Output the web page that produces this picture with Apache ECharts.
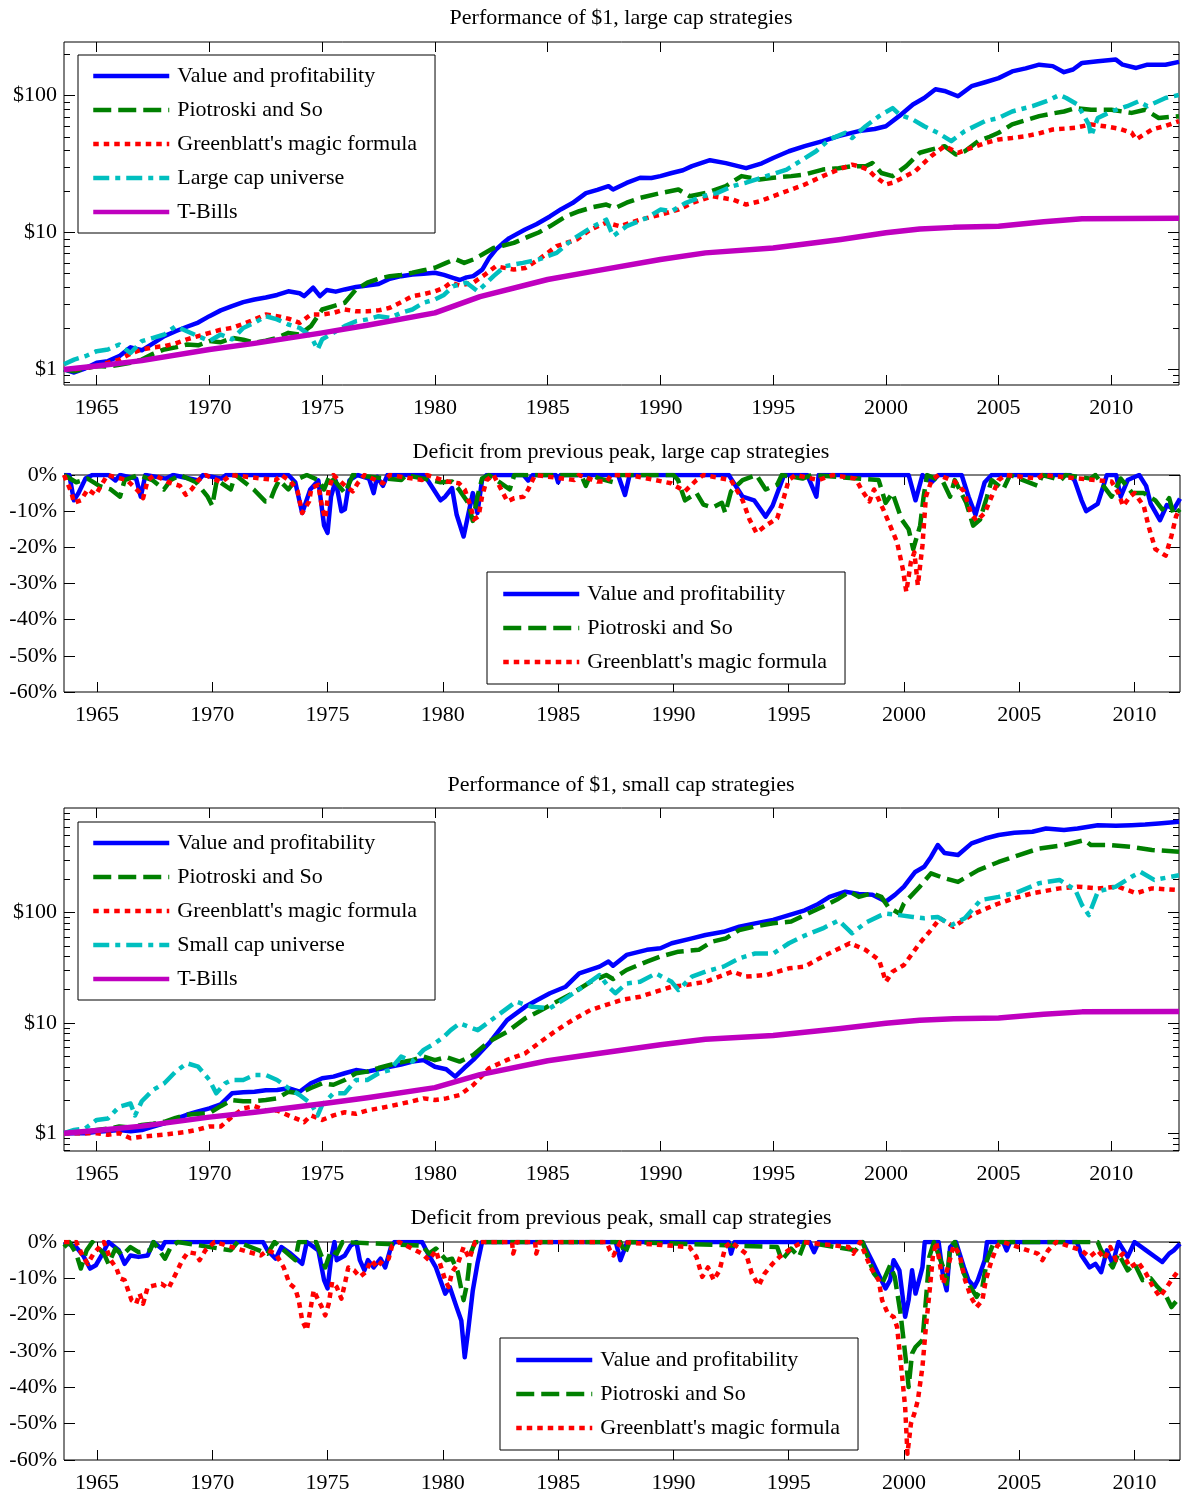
<!DOCTYPE html>
<html>
<head>
<meta charset="utf-8">
<script src="https://cdn.jsdelivr.net/npm/echarts@6/dist/echarts.min.js"></script>
<style>
  html, body { margin: 0; padding: 0; background: #fff; }
  #chart { width: 1183px; height: 1493px; }
</style>
</head>
<body>
<div id="chart"></div>
<script>
// growth of $1, large cap (year, dollars)
var lcValue = [[1963.55,1.0],[1964.0,0.95],[1964.5,1.02],[1965.0,1.12],[1965.5,1.15],[1966.0,1.25],[1966.5,1.45],[1967.0,1.38],[1967.5,1.55],[1968.0,1.75],[1968.5,1.9],[1969.0,2.05],[1969.5,2.2],[1970.0,2.45],[1970.5,2.7],[1971.0,2.9],[1971.5,3.1],[1972.0,3.24],[1972.5,3.35],[1973.0,3.5],[1973.5,3.72],[1974.0,3.6],[1974.2,3.43],[1974.6,3.95],[1974.9,3.43],[1975.2,3.8],[1975.6,3.7],[1976.0,3.84],[1976.5,4.0],[1977.0,4.1],[1977.5,4.2],[1978.0,4.6],[1978.5,4.8],[1979.0,4.94],[1979.5,5.0],[1980.0,5.08],[1980.4,4.9],[1980.8,4.67],[1981.1,4.5],[1981.4,4.7],[1981.7,4.8],[1982.1,5.36],[1982.4,6.5],[1982.7,7.5],[1983.0,8.3],[1983.3,9.1],[1984.0,10.5],[1984.5,11.5],[1985.1,13.1],[1985.6,14.8],[1986.1,16.4],[1986.7,19.4],[1987.2,20.5],[1987.7,21.8],[1987.9,20.6],[1988.5,23],[1989.1,25.1],[1989.6,25.0],[1990.0,25.8],[1990.5,27.2],[1991.0,28.5],[1991.4,30.5],[1992.2,33.7],[1992.9,32.1],[1993.8,29.5],[1994.5,32],[1995.0,35],[1995.7,39.2],[1996.4,42.7],[1997.2,46.5],[1997.9,50.5],[1998.8,55],[1999.5,57],[2000.0,59.7],[2000.6,71],[2001.2,86],[2001.7,95.9],[2002.2,111],[2002.6,108],[2003.2,98.8],[2003.8,117],[2004.4,125],[2005.0,134],[2005.6,150],[2006.2,158],[2006.8,168],[2007.4,164],[2007.9,148],[2008.3,155],[2008.7,173],[2009.4,178],[2010.2,183],[2010.5,168],[2011.1,159],[2011.6,168],[2012.4,168],[2013.0,176]];
var lcPiotroski = [[1963.55,1.0],[1964.0,0.97],[1964.5,1.02],[1965.0,1.06],[1965.5,1.05],[1966.0,1.08],[1966.5,1.12],[1967.0,1.18],[1967.5,1.3],[1968.0,1.4],[1968.5,1.45],[1969.0,1.52],[1969.5,1.5],[1970.0,1.61],[1970.5,1.58],[1971.0,1.7],[1971.5,1.65],[1972.0,1.57],[1972.5,1.62],[1973.0,1.7],[1973.5,1.85],[1974.0,1.8],[1974.5,2.07],[1975.0,2.74],[1975.5,2.9],[1976.0,3.07],[1976.5,3.84],[1977.0,4.3],[1977.5,4.6],[1978.0,4.8],[1978.5,4.9],[1979.0,5.08],[1979.5,5.3],[1980.0,5.53],[1980.5,6.0],[1980.9,6.4],[1981.3,6.0],[1981.7,6.35],[1982.1,6.9],[1982.6,7.7],[1983.0,8.0],[1983.5,8.4],[1984.2,9.4],[1984.6,10],[1985.1,11.1],[1985.8,13.1],[1986.4,14.3],[1987.0,15.3],[1987.6,16.0],[1988.0,15.1],[1988.5,16.5],[1989.1,17.9],[1990.0,19.4],[1990.8,20.6],[1991.3,18.4],[1992.0,19.4],[1992.9,21.8],[1993.6,25.8],[1994.4,24.4],[1995.0,25.1],[1995.8,25.8],[1996.4,26.5],[1997.2,28.8],[1997.9,29.5],[1998.5,30.5],[1999.1,30.5],[1999.4,32.2],[1999.8,27.2],[2000.3,25.8],[2000.9,30.5],[2001.5,38.2],[2002.0,40.3],[2002.6,42.7],[2003.1,37.1],[2003.5,39.2],[2004.1,46.5],[2004.6,50],[2005.0,53.5],[2005.6,61.6],[2006.2,66],[2006.8,70.7],[2007.4,74],[2007.9,76.5],[2008.4,81],[2009.1,78.7],[2010.0,78.7],[2010.9,74.7],[2011.5,78.7],[2012.1,68.6],[2013.0,70.7]];
var lcGreenblatt = [[1963.55,1.0],[1964.0,1.0],[1964.5,1.03],[1965.0,1.06],[1965.5,1.12],[1966.0,1.18],[1966.5,1.3],[1967.0,1.4],[1967.5,1.45],[1968.0,1.48],[1968.5,1.55],[1969.0,1.66],[1969.5,1.75],[1970.0,1.85],[1970.5,1.95],[1971.0,2.01],[1971.5,2.15],[1972.0,2.32],[1972.5,2.52],[1973.0,2.45],[1973.5,2.35],[1974.0,2.19],[1974.5,2.52],[1975.0,2.52],[1975.5,2.59],[1976.0,2.74],[1976.5,2.66],[1977.0,2.66],[1977.5,2.7],[1978.0,2.82],[1978.5,3.1],[1979.0,3.43],[1979.5,3.55],[1980.0,3.72],[1980.4,3.95],[1980.7,4.3],[1981.1,4.1],[1981.7,4.3],[1982.2,4.9],[1982.7,5.67],[1983.5,5.36],[1984.0,5.5],[1984.6,6.35],[1985.4,7.95],[1986.3,8.9],[1986.9,10.5],[1987.6,11.8],[1988.2,11.1],[1989.1,12.4],[1990.0,13.5],[1990.8,14.7],[1991.4,16.4],[1992.3,18.4],[1993.2,17.4],[1993.8,16.0],[1994.4,16.9],[1995.0,18.4],[1995.8,20.6],[1996.4,22.4],[1997.2,25.8],[1997.9,28.8],[1998.5,31.3],[1998.8,30.5],[1999.2,28.8],[1999.5,25.8],[2000.0,22.4],[2000.3,23.1],[2000.6,24.4],[2001.3,28],[2002.0,36],[2002.6,42.7],[2003.2,38.2],[2003.8,41.5],[2004.4,45],[2005.0,47.8],[2005.6,49],[2006.2,50.5],[2006.8,53],[2007.4,56.5],[2008.4,58.1],[2009.1,61.6],[2009.7,59.7],[2010.4,57],[2010.9,53.5],[2011.1,47.8],[2011.8,56.5],[2012.4,60],[2013.0,65]];
var lcUniverse = [[1963.55,1.09],[1964.0,1.18],[1964.5,1.25],[1965.0,1.36],[1965.5,1.40],[1966.0,1.52],[1966.5,1.32],[1967.0,1.61],[1967.5,1.7],[1968.0,1.80],[1968.5,2.07],[1969.0,1.90],[1969.5,1.75],[1970.0,1.61],[1970.5,1.80],[1971.0,1.66],[1971.5,2.01],[1972.0,2.19],[1972.5,2.45],[1973.0,2.32],[1973.5,2.13],[1974.0,2.01],[1974.5,1.75],[1974.8,1.40],[1975.0,1.66],[1975.5,1.85],[1976.0,2.07],[1976.5,2.25],[1977.0,2.32],[1977.5,2.45],[1978.0,2.38],[1978.5,2.59],[1979.0,2.74],[1979.5,3.07],[1980.0,3.24],[1980.4,3.5],[1980.8,4.05],[1981.4,4.3],[1981.9,3.72],[1982.6,4.8],[1983.1,5.67],[1983.9,6.0],[1984.6,6.35],[1985.4,7.1],[1986.1,8.9],[1986.9,10.8],[1987.6,12.4],[1987.9,9.4],[1988.5,11.1],[1989.4,12.8],[1990.0,14.7],[1990.5,14.3],[1991.1,16.4],[1991.9,18.4],[1992.5,19.4],[1993.2,21.8],[1993.8,23.1],[1994.7,25.8],[1995.6,28.8],[1996.2,33.2],[1996.9,39.2],[1997.5,47.8],[1998.2,53.5],[1998.5,49],[1999.1,59.7],[1999.7,70.7],[2000.3,81],[2000.6,72.7],[2001.2,66.7],[2001.7,59.7],[2002.3,53.5],[2002.9,46.5],[2003.5,55],[2004.4,65],[2005.0,68.6],[2005.6,76.5],[2006.5,83.6],[2007.2,92],[2007.7,101],[2008.0,96],[2008.5,86],[2009.0,61.6],[2009.1,50.5],[2009.4,68.6],[2010.0,76.5],[2010.7,83.6],[2011.2,90.7],[2011.6,83.6],[2012.4,96],[2013.0,101]];
var tBills = [[1963.55,1.0],[1965,1.06],[1967,1.16],[1970,1.40],[1972,1.55],[1975,1.85],[1977,2.1],[1980,2.59],[1982,3.4],[1985,4.54],[1987,5.2],[1990,6.35],[1992,7.1],[1995,7.7],[1998,8.9],[2000,9.95],[2001.5,10.6],[2003,10.9],[2005,11.1],[2007,12.0],[2008.7,12.6],[2013,12.7]];

// growth of $1, small cap
var scValue = [[1963.55,1.0],[1964.5,1.0],[1965.0,1.03],[1965.5,1.05],[1966.0,1.07],[1966.5,1.04],[1967.0,1.07],[1967.5,1.15],[1968.0,1.23],[1968.5,1.35],[1969.0,1.47],[1969.5,1.58],[1970.0,1.68],[1970.5,1.83],[1971.0,2.30],[1971.5,2.35],[1972.0,2.38],[1972.5,2.45],[1973.0,2.47],[1973.5,2.56],[1974.0,2.38],[1974.5,2.84],[1975.0,3.15],[1975.5,3.26],[1976.0,3.5],[1976.5,3.74],[1977.0,3.62],[1977.5,3.8],[1978.0,4.01],[1978.5,4.2],[1979.0,4.46],[1979.5,4.6],[1980.0,4.01],[1980.5,3.8],[1980.9,3.26],[1981.3,3.9],[1981.7,4.62],[1982.4,6.54],[1983.2,10.6],[1984.0,14.0],[1984.5,16],[1985.1,18.6],[1985.8,21.3],[1986.4,28.1],[1987.3,32.4],[1987.7,36],[1987.9,33],[1988.5,41.4],[1989.4,46],[1990.0,47.6],[1990.5,52.8],[1991.4,58.5],[1992.0,62.7],[1992.8,67],[1993.5,74.5],[1994.2,80],[1995.0,86],[1995.7,95],[1996.4,105],[1997.0,120],[1997.5,139],[1998.2,155],[1998.8,148],[1999.4,145],[2000.0,126],[2000.4,145],[2000.8,172],[2001.3,234],[2001.7,261],[2002.0,320],[2002.3,410],[2002.6,347],[2003.2,333],[2003.8,425],[2004.4,470],[2005.0,506],[2005.7,530],[2006.5,541],[2007.1,580],[2007.9,562],[2008.5,580],[2009.4,621],[2010.2,615],[2010.9,621],[2011.5,630],[2012.1,644],[2013.0,668]];
var scPiotroski = [[1963.55,1.0],[1964.5,1.03],[1965.0,1.07],[1965.5,1.1],[1966.0,1.15],[1966.5,1.13],[1967.0,1.19],[1967.5,1.22],[1968.0,1.27],[1968.5,1.38],[1969.0,1.47],[1969.5,1.5],[1970.0,1.52],[1970.5,1.76],[1971.0,2.0],[1971.5,1.95],[1972.0,1.95],[1972.5,2.0],[1973.0,2.07],[1973.5,2.38],[1974.0,2.30],[1974.5,2.57],[1975.0,2.84],[1975.5,2.75],[1976.0,3.04],[1976.5,3.5],[1977.0,3.62],[1977.5,3.9],[1978.0,4.16],[1978.5,4.4],[1979.0,4.6],[1979.5,4.95],[1980.0,4.6],[1980.5,4.9],[1981.1,4.46],[1981.7,5.12],[1982.4,6.77],[1983.2,8.32],[1984.0,11.0],[1984.6,12.7],[1985.4,15.6],[1986.1,18.6],[1986.9,23.6],[1987.6,27.2],[1987.9,25],[1988.5,30.2],[1989.4,36],[1990.0,40],[1990.8,44.3],[1991.7,46],[1992.3,54.6],[1992.9,58.5],[1993.5,69.6],[1994.2,75],[1995.0,80],[1995.8,83],[1996.4,95],[1997.2,113],[1997.9,134],[1998.4,155],[1998.8,139],[1999.4,150],[1999.8,139],[2000.1,113],[2000.6,98],[2000.8,121],[2001.5,172],[2002.0,227],[2002.6,205],[2003.2,190],[2004.1,243],[2005.0,288],[2005.9,333],[2006.8,382],[2007.9,410],[2008.8,455],[2009.1,410],[2010.0,410],[2010.9,395],[2011.8,370],[2013.0,357]];
var scGreenblatt = [[1963.55,1.0],[1964.5,1.0],[1965.0,1.0],[1965.5,0.97],[1966.0,1.0],[1966.5,0.90],[1967.0,0.93],[1967.5,0.95],[1968.0,0.97],[1968.5,1.0],[1969.0,1.03],[1969.5,1.08],[1970.0,1.15],[1970.5,1.15],[1971.0,1.41],[1971.5,1.68],[1972.0,1.76],[1972.5,1.61],[1973.0,1.61],[1973.5,1.45],[1974.0,1.32],[1974.2,1.26],[1974.5,1.45],[1975.0,1.32],[1975.5,1.45],[1976.0,1.55],[1976.5,1.5],[1977.0,1.61],[1977.5,1.68],[1978.0,1.76],[1978.5,1.85],[1979.0,1.95],[1979.5,2.07],[1980.0,2.0],[1980.5,2.07],[1981.1,2.22],[1981.7,2.74],[1982.4,3.88],[1983.2,4.62],[1984.0,5.3],[1984.6,6.54],[1985.4,8.6],[1986.1,10.6],[1986.9,13.1],[1987.6,14.6],[1988.3,16.2],[1989.1,17.3],[1989.8,19.2],[1990.5,21.3],[1991.1,22],[1992.0,23.6],[1992.8,27.2],[1993.2,29.2],[1993.8,26.3],[1994.7,27.2],[1995.7,31.3],[1996.4,32.4],[1997.2,40],[1997.9,47],[1998.4,52.8],[1999.1,46],[1999.7,37.2],[2000.0,23.6],[2000.3,29.2],[2000.8,33.5],[2001.5,52.8],[2002.0,69.6],[2002.4,89],[2003.0,74.5],[2003.8,95],[2004.4,108],[2005.0,121],[2005.7,135],[2006.5,150],[2007.7,166],[2008.5,172],[2009.4,166],[2010.3,172],[2011.1,150],[2011.8,166],[2013.0,160]];
var scUniverse = [[1963.55,1.0],[1964.0,1.07],[1964.5,1.11],[1965.0,1.32],[1965.5,1.36],[1966.0,1.74],[1966.5,1.86],[1966.7,1.45],[1967.0,1.95],[1967.5,2.47],[1968.0,2.84],[1968.5,3.62],[1969.0,4.31],[1969.5,4.01],[1970.0,3.04],[1970.3,2.30],[1970.7,2.84],[1971.0,3.04],[1971.5,3.04],[1972.0,3.37],[1972.5,3.37],[1973.0,3.04],[1973.5,2.57],[1974.0,2.22],[1974.5,1.86],[1974.8,1.45],[1975.0,1.81],[1975.5,2.30],[1976.0,2.30],[1976.5,3.04],[1977.0,3.04],[1977.5,3.5],[1978.0,3.74],[1978.5,4.95],[1979.0,4.46],[1979.5,5.7],[1980.0,6.54],[1980.4,7.5],[1980.7,8.6],[1981.1,9.9],[1981.9,8.6],[1982.9,12.2],[1983.6,15.6],[1984.3,14.0],[1985.1,13.6],[1985.8,16.7],[1986.7,22.2],[1987.3,27.2],[1987.7,21.3],[1988.0,18.6],[1988.5,22.8],[1989.1,23.6],[1989.8,28.1],[1990.5,23.6],[1990.8,19.9],[1991.4,26.3],[1992.0,29.2],[1992.8,32.4],[1993.5,38.6],[1994.2,42.6],[1995.0,42.6],[1995.7,52.8],[1996.4,62],[1997.2,72],[1997.9,85],[1998.5,65],[1999.1,81],[1999.8,95],[2000.0,98],[2000.6,95],[2001.2,91.5],[2001.7,89],[2002.3,91.5],[2002.9,77],[2003.5,89],[2004.2,130],[2005.0,139],[2005.9,155],[2006.8,185],[2007.7,198],[2008.4,161],[2008.7,117],[2009.0,95],[2009.4,155],[2010.2,172],[2010.9,212],[2011.3,234],[2011.9,198],[2013.0,218]];

// deficit from previous peak, large cap (year, percent)
var ddLcValue = [[1963.57,0],[1963.8,0],[1964.0,-7],[1964.2,-5],[1964.5,-1],[1964.8,0],[1965.5,0],[1965.8,-1.5],[1966.0,0],[1966.7,-1],[1966.9,-6],[1967.1,0],[1968.0,-1],[1968.3,0],[1969.4,-1.5],[1969.6,0],[1970.4,-1],[1970.6,0],[1973.3,0],[1973.6,-2],[1973.9,-10.5],[1974.25,-4],[1974.6,-1.5],[1974.85,-14],[1975.0,-16],[1975.15,-6],[1975.35,-1.5],[1975.6,-10],[1975.75,-9.5],[1975.95,-1.5],[1976.3,0],[1976.8,-1],[1977.0,-5],[1977.15,-0.5],[1977.4,-3],[1977.6,0],[1979.2,0],[1979.4,-2],[1979.9,-7],[1980.1,-6],[1980.4,-3.6],[1980.6,-11],[1980.9,-17],[1981.1,-11],[1981.3,-5],[1981.5,-10.5],[1981.7,-1.4],[1981.9,0],[1983.5,0],[1983.7,-1.5],[1983.9,0],[1984.9,0],[1985.0,-2],[1985.1,0],[1987.6,0],[1987.9,-5.5],[1988.1,0],[1992.4,0],[1992.5,-1],[1993.0,-6],[1993.5,-7],[1994.0,-11.5],[1994.3,-8.5],[1994.8,0],[1995.8,0],[1995.9,-1.4],[1996.2,-6],[1996.3,0],[2000.2,0],[2000.5,-7],[2000.8,0],[2001.2,-2],[2001.5,0],[2002.5,0],[2002.8,-6],[2003.1,-11],[2003.5,-2],[2003.8,0],[2007.2,0],[2007.4,-1.5],[2007.7,-7],[2007.9,-10],[2008.4,-8],[2008.8,0],[2009.2,0],[2009.4,-6],[2009.7,-1.4],[2010.2,0],[2010.5,-3],[2010.7,-8],[2011.1,-12.5],[2011.4,-8.3],[2011.7,-9.5],[2011.97,-6.5]];
var ddLcPiotroski = [[1963.57,0],[1964.1,-2],[1964.6,-1],[1965.1,-3],[1965.6,-4],[1966.0,-6],[1966.2,-1.4],[1966.8,0],[1967.4,-1.4],[1967.9,-4],[1968.2,-1.4],[1968.6,0],[1969.3,-2],[1969.8,-6],[1970.0,-8.5],[1970.2,-1.4],[1970.8,-4],[1971.0,0],[1971.8,-4],[1972.3,-7.3],[1972.5,-7.3],[1972.7,-4],[1972.9,-1.4],[1973.3,-4],[1973.6,-1.4],[1974.1,0],[1974.6,-1.4],[1974.85,-4],[1975.1,0],[1975.75,-5],[1976.1,0],[1978.2,-1.4],[1978.4,0],[1979.9,-2],[1980.4,-1.8],[1980.7,-4],[1981.1,-7.7],[1981.3,-12.7],[1981.5,-6],[1981.7,-1],[1982.0,0],[1982.9,-4],[1983.1,0],[1986.0,0],[1986.2,-3],[1986.4,0],[1986.8,-1],[1987.4,-2],[1987.6,0],[1990.0,0],[1990.2,-1.4],[1990.5,-7],[1991.0,-5],[1991.3,-8.2],[1991.7,-9],[1992.1,-7.7],[1992.25,-10.5],[1992.5,-4.5],[1993.0,-1.4],[1993.6,0],[1994.0,-4],[1994.5,-2.7],[1994.7,0],[1995.6,-1],[1996.0,0],[1998.9,-1.4],[1999.2,-7.7],[1999.5,-5],[1999.9,-12.3],[2000.2,-15],[2000.4,-20.5],[2000.7,-14],[2000.85,-6],[2001.0,0],[2001.7,-2],[2002.0,-6],[2002.2,-1.4],[2002.7,-7.7],[2003.0,-14],[2003.3,-12.3],[2003.6,-6],[2003.8,-1.4],[2004.3,-4],[2004.6,0],[2005.8,-3],[2006.0,0],[2006.8,-1.4],[2007.0,0],[2008.1,-1],[2008.3,0],[2009.0,-6],[2009.4,-1],[2009.9,-5],[2010.4,-5],[2010.9,-7],[2011.2,-9.5],[2011.5,-6.4],[2011.7,-11],[2011.97,-9.5]];
var ddLcGreenblatt = [[1963.57,0],[1963.9,-5],[1964.0,-7.7],[1964.3,-7],[1964.6,-4],[1964.95,-5.5],[1965.2,-2.7],[1965.45,0],[1966.3,-1.4],[1966.8,-4.5],[1967.0,-6.4],[1967.2,-1.4],[1967.5,0],[1968.1,-2],[1968.6,-3],[1968.85,-5.5],[1969.1,-4],[1969.4,-1.4],[1969.7,0],[1970.4,-2],[1970.8,0],[1972.75,-1.4],[1973.0,0],[1973.4,-1.8],[1973.7,-4.5],[1973.9,-10.5],[1974.2,-7.3],[1974.3,-3.6],[1974.6,-2.7],[1974.75,-8.6],[1974.9,-12],[1975.05,-4],[1975.25,0],[1975.8,-3.2],[1976.1,-4.5],[1976.3,-2.3],[1976.6,0],[1977.4,-2.3],[1977.7,0],[1979.1,-1.4],[1979.3,0],[1980.2,-1.8],[1980.7,-2.3],[1980.95,-4],[1981.2,-8.6],[1981.35,-12.3],[1981.55,-11.4],[1981.7,-6],[1981.9,-1.4],[1982.2,0],[1982.8,-7.3],[1983.1,-6.4],[1983.5,-6],[1983.7,-4],[1984.0,0],[1985.7,-1.4],[1985.9,0],[1986.7,-1.8],[1987.1,-1.8],[1987.3,0],[1988.1,0],[1989.9,-2.3],[1990.5,-4.5],[1991.0,-1.4],[1991.3,0],[1992.5,-1.4],[1993.0,-7],[1993.3,-12.3],[1993.6,-16],[1994.0,-14],[1994.5,-12],[1994.8,-6],[1995.0,-1.4],[1995.3,0],[1996.3,-1.4],[1996.9,0],[1997.9,-1],[1998.2,-4.5],[1998.5,-7.3],[1998.7,-4],[1999.1,-9.5],[1999.4,-14],[1999.7,-18.6],[1999.95,-26],[2000.1,-32.3],[2000.3,-24],[2000.45,-21.4],[2000.6,-30.5],[2000.8,-19.5],[2000.95,-6],[2001.2,-1.4],[2001.5,0],[2002.2,-1.8],[2002.6,-4.5],[2002.9,-10.5],[2003.15,-12.7],[2003.5,-10.5],[2003.8,-6],[2004.1,-1.4],[2004.4,0],[2005.8,-1],[2006.0,0],[2009.0,-1.8],[2009.3,-5],[2009.5,-8.6],[2009.8,-6],[2010.0,-5],[2010.4,-8.6],[2010.6,-14],[2010.9,-20.5],[2011.35,-22.3],[2011.6,-16.8],[2011.8,-11.4],[2011.97,-9.5]];

// deficit from previous peak, small cap
var ddScValue = [[1963.57,0],[1964.1,-1.4],[1964.4,-3.7],[1964.7,-7.3],[1964.95,-6.4],[1965.2,-3.7],[1965.5,0],[1965.95,-2.3],[1966.2,-6],[1966.45,-3.7],[1966.8,-4.1],[1967.2,-3.7],[1967.45,0],[1967.8,-1.8],[1967.95,0],[1972.2,0],[1972.4,-2.3],[1972.75,-4.6],[1973.0,-1.4],[1973.4,-3.2],[1973.9,-6],[1974.1,0],[1974.6,-2.3],[1974.85,-10.5],[1975.0,-12.8],[1975.15,-4.6],[1975.3,0],[1975.4,-5],[1975.75,-3.7],[1976.0,-1],[1976.25,0],[1976.4,-5],[1976.6,-7.8],[1976.75,-5],[1977.0,-7],[1977.3,-4.6],[1977.5,-7],[1977.75,-1.4],[1977.9,0],[1979.1,0],[1979.4,-3.7],[1979.7,-7],[1980.1,-14.2],[1980.3,-12.4],[1980.6,-18],[1980.8,-21.6],[1980.95,-31.7],[1981.1,-24.3],[1981.3,-13.3],[1981.5,-6],[1981.7,0],[1987.5,0],[1987.7,-5],[1988.0,0],[1992.4,0],[1992.5,-3.2],[1992.65,0],[1995.9,0],[1996.1,-2.8],[1996.3,0],[1998.2,0],[1998.6,-5],[1998.95,-9.6],[1999.2,-12.8],[1999.4,-10.5],[1999.55,-5],[1999.8,-7.8],[2000.05,-20.6],[2000.2,-16],[2000.35,-7.8],[2000.5,-14.2],[2000.8,-7],[2000.9,0],[2001.5,0],[2001.7,-9.6],[2001.85,-13.3],[2002.0,-1.4],[2002.25,0],[2002.6,-7],[2002.8,-10.5],[2003.05,-12.4],[2003.2,-10.5],[2003.5,-5],[2003.6,0],[2004.3,0],[2004.45,-2.3],[2004.6,0],[2007.5,0],[2007.7,-3.7],[2008.05,-7],[2008.3,-6],[2008.55,-8.3],[2008.8,-2.3],[2009.05,-6],[2009.3,0],[2009.7,-4.1],[2010.0,0],[2010.5,-2.3],[2011.2,-5.5],[2011.5,-3.2],[2011.7,-2.3],[2011.97,-0.5]];
var ddScPiotroski = [[1963.57,-1.4],[1963.8,0],[1964.1,-3.2],[1964.3,-7.3],[1964.55,-2.3],[1964.8,0],[1965.3,-3.2],[1965.5,-6],[1965.8,-1.8],[1966.1,-3.7],[1966.45,-1.4],[1966.8,-2.8],[1967.3,-2.3],[1967.45,0],[1967.95,-4.6],[1968.2,-1.4],[1968.5,0],[1970.8,-2.3],[1971.1,0],[1972.4,-3.2],[1972.7,0],[1973.6,-5],[1973.75,0],[1974.5,0],[1974.75,-4.1],[1974.9,-7],[1975.15,-2.3],[1975.4,-3.2],[1975.65,0],[1979.1,-1],[1979.4,-3.2],[1979.7,-1.8],[1980.15,-5],[1980.4,-4.6],[1980.65,-8.3],[1980.9,-16],[1981.05,-11.5],[1981.2,-3.2],[1981.4,0],[1987.7,0],[1987.9,-3.2],[1988.1,0],[1994.5,-1.4],[1994.7,-5],[1995.1,-1.8],[1995.45,-4.1],[1995.7,0],[1997.9,-2.3],[1998.2,0],[1998.7,-8.7],[1999.05,-11.5],[1999.4,-6.4],[1999.6,-9.6],[1999.85,-19.7],[2000.1,-33.5],[2000.2,-39.9],[2000.35,-30.7],[2000.5,-28.9],[2000.8,-27],[2000.95,-16],[2001.1,-4.1],[2001.3,0],[2001.7,-7],[2001.85,-11.5],[2002.0,-1.4],[2002.2,0],[2002.6,-8.7],[2002.8,-11.5],[2003.15,-15.1],[2003.4,-12.4],[2003.6,-5],[2003.9,0],[2008.4,0],[2008.55,-2.3],[2009.05,-7],[2009.3,-3.2],[2009.7,-7.8],[2010.0,-6],[2010.35,-10.5],[2010.7,-10],[2011.0,-12.4],[2011.35,-14.7],[2011.6,-17.9],[2011.85,-16],[2011.97,-17]];
var ddScGreenblatt = [[1963.57,0],[1964.1,0],[1964.4,-4.1],[1964.6,-6],[1964.85,-3.2],[1965.3,0],[1965.6,-5],[1965.85,-7.3],[1966.0,-10],[1966.2,-10.5],[1966.35,-13.3],[1966.5,-16],[1966.7,-17],[1966.85,-14.2],[1967.0,-17],[1967.2,-12.4],[1967.45,-12],[1967.8,-11.5],[1968.1,-12.8],[1968.45,-8.3],[1968.7,-5],[1968.95,-2.8],[1969.3,-3.2],[1969.45,-5],[1969.7,-2.3],[1970.1,0],[1972.1,-3.7],[1972.4,-2.3],[1972.75,-3.2],[1973.1,-7],[1973.35,-11.5],[1973.6,-12.8],[1973.75,-16],[1973.9,-21.6],[1974.1,-24.3],[1974.25,-18.8],[1974.4,-13.3],[1974.6,-16],[1974.75,-17.9],[1974.9,-20.2],[1975.05,-17],[1975.2,-11],[1975.4,-12.4],[1975.6,-15.6],[1975.75,-11.5],[1975.9,-7],[1976.15,-7.8],[1976.4,-9.6],[1976.65,-8.3],[1976.9,-5],[1977.15,-7],[1977.4,-5],[1977.65,-4.6],[1977.8,-1],[1978.1,0],[1979.1,-3.2],[1979.4,-5],[1979.7,-2.3],[1980.1,-10.5],[1980.25,-12.4],[1980.4,-8.3],[1980.65,-6],[1980.9,-1.4],[1981.15,-4.6],[1981.4,0],[1983.0,0],[1983.05,-3.2],[1983.2,0],[1984.0,0],[1984.05,-3.2],[1984.2,0],[1987.1,0],[1987.25,-2.3],[1987.4,-3.7],[1987.7,0],[1990.7,-1.4],[1991.0,-4.1],[1991.25,-9.6],[1991.5,-7],[1991.75,-10.5],[1992.0,-7.8],[1992.25,-1.4],[1992.5,0],[1993.15,-3.2],[1993.4,-8.7],[1993.7,-12],[1993.95,-8.7],[1994.3,-6],[1994.6,-4.1],[1995.1,-1.8],[1995.6,0],[1997.6,-1.4],[1997.8,-3.2],[1998.1,0],[1998.55,-7],[1998.9,-10.5],[1999.05,-16],[1999.3,-19.7],[1999.55,-20.6],[1999.7,-23.4],[1999.85,-32.6],[2000.05,-45.4],[2000.15,-58.3],[2000.3,-50],[2000.45,-47.2],[2000.6,-43.6],[2000.8,-34.4],[2000.95,-23.4],[2001.1,-14.2],[2001.25,-4.1],[2001.4,0],[2001.7,-11.5],[2001.9,-7],[2002.15,-1],[2002.4,-3.2],[2002.65,-10.5],[2002.9,-15.1],[2003.15,-17.9],[2003.4,-16],[2003.55,-10.5],[2003.8,-5],[2004.05,-1],[2004.3,0],[2005.8,-3.2],[2006.0,-5],[2006.25,-2.3],[2006.6,0],[2007.7,-2.3],[2008.05,-4.1],[2008.4,-2.3],[2008.7,-4.6],[2008.95,-1.4],[2009.2,-5],[2009.5,-3.2],[2009.8,-7],[2010.15,-5.5],[2010.5,-8.7],[2010.8,-12.4],[2011.1,-15.1],[2011.35,-12.8],[2011.6,-10.5],[2011.85,-8.3],[2011.97,-7.8]];

var yearTicks = [1965, 1970, 1975, 1980, 1985, 1990, 1995, 2000, 2005, 2010];
var dollarTicks = [1, 10, 100];
var lcMinorTicks = [0.8, 0.9, 2, 3, 4, 5, 6, 7, 8, 9, 20, 30, 40, 50, 60, 70, 80, 90, 200];
var scMinorTicks = [0.7, 0.8, 0.9, 2, 3, 4, 5, 6, 7, 8, 9, 20, 30, 40, 50, 60, 70, 80, 90, 200, 300, 400, 500, 600, 700, 800];

var names = ['Value and profitability', 'Piotroski and So', "Greenblatt's magic formula"];
var colors = ['#0000ff', '#008000', '#ff0000', '#00bfbf', '#bf00bf'];
var dashes = ['solid', [18, 7], [5.5, 5], [16, 6, 5, 6], 'solid'];

var font = { fontFamily: 'Liberation Serif', fontSize: 22, color: '#000' };
function withFont(o) { return Object.assign({}, font, o); }

function xPair(g, min, max) {
  var tick = { inside: true, length: 10, customValues: yearTicks, lineStyle: { color: '#000', width: 1 } };
  var base = { type: 'value', gridIndex: g, min: min, max: max,
    axisLine: { show: false, onZero: false }, splitLine: { show: false } };
  return [
    Object.assign({}, base, { position: 'bottom', axisTick: tick,
      axisLabel: withFont({ customValues: yearTicks, margin: 12, formatter: function (v) { return String(v); } }) }),
    Object.assign({}, base, { position: 'top', axisTick: tick, axisLabel: { show: false } })
  ];
}

function logAxes(g, min, max, minor) {
  function ax(pos, vals, len, labels) {
    return { type: 'log', logBase: 10, gridIndex: g, position: pos, min: min, max: max,
      axisLine: { show: false, onZero: false }, splitLine: { show: false }, minorTick: { show: false },
      axisTick: { inside: true, length: len, customValues: vals, lineStyle: { color: '#000', width: 1 } },
      axisLabel: labels ? withFont({ customValues: dollarTicks, margin: 7, formatter: function (v) { return '$' + Math.round(v); } }) : { show: false } };
  }
  return [ax('left', dollarTicks, 11, true), ax('left', minor, 6, false), ax('right', dollarTicks, 11, false), ax('right', minor, 6, false)];
}

function ddAxes(g) {
  function ax(pos, labels) {
    return { type: 'value', gridIndex: g, position: pos, min: -60, max: 0, interval: 10,
      axisLine: { show: false, onZero: false }, splitLine: { show: false },
      axisTick: { inside: true, length: 11, lineStyle: { color: '#000', width: 1 } },
      axisLabel: labels ? withFont({ margin: 7, formatter: '{value}%' }) : { show: false } };
  }
  return [ax('left', true), ax('right', false)];
}

function line(name, data, k, xi, yi) {
  return { name: name, type: 'line', data: data, xAxisIndex: xi, yAxisIndex: yi,
    symbol: 'none', showSymbol: false, clip: true, silent: true,
    lineStyle: { color: colors[k], width: k === 4 ? 5.5 : 4.5, type: dashes[k], cap: 'butt', join: 'round' },
    itemStyle: { color: colors[k] }, emphasis: { disabled: true } };
}

function legendBox(left, top, list, pad) {
  return { orient: 'vertical', left: left, top: top, data: list, itemWidth: 76, itemHeight: 20, itemGap: 12,
    padding: pad, backgroundColor: '#fff', borderColor: '#000', borderWidth: 1, borderRadius: 0,
    selectedMode: false,
    itemStyle: { opacity: 0, borderWidth: 0 },
    lineStyle: { width: 4.5 },
    textStyle: withFont({ lineHeight: 22, padding: [0, 0, 0, 3] }) };
}

function titleAt(text, top) {
  return { text: text, left: 621, top: top, textAlign: 'center', padding: 0,
    textStyle: withFont({ fontWeight: 'normal' }) };
}

var gridBase = { show: true, borderColor: '#000', borderWidth: 1, backgroundColor: 'transparent', containLabel: false, outerBoundsMode: 'none' };

var option = {
  animation: false,
  backgroundColor: '#fff',
  title: [
    titleAt('Performance of $1, large cap strategies', 7),
    titleAt('Deficit from previous peak, large cap strategies', 441),
    titleAt('Performance of $1, small cap strategies', 774),
    titleAt('Deficit from previous peak, small cap strategies', 1207)
  ],
  legend: [
    legendBox(78, 55, names.concat(['Large cap universe', 'T-Bills']), [10, 18, 10, 13]),
    legendBox(487, 572, names, [11, 18, 11, 14]),
    legendBox(78, 822, names.concat(['Small cap universe', 'T-Bills']), [10, 18, 10, 13]),
    legendBox(500, 1338, names, [11, 18, 11, 14])
  ],
  grid: [
    Object.assign({ left: 64, top: 42, width: 1115, height: 343 }, gridBase),
    Object.assign({ left: 64, top: 475, width: 1116, height: 217 }, gridBase),
    Object.assign({ left: 64, top: 808, width: 1115, height: 343 }, gridBase),
    Object.assign({ left: 64, top: 1242, width: 1116, height: 218 }, gridBase)
  ],
  xAxis: [].concat(
    xPair(0, 1963.55, 2013.0),
    xPair(1, 1963.57, 2011.97),
    xPair(2, 1963.55, 2013.0),
    xPair(3, 1963.57, 2011.97)
  ),
  yAxis: [].concat(
    logAxes(0, 0.77, 246, lcMinorTicks),
    ddAxes(1),
    logAxes(2, 0.69, 889, scMinorTicks),
    ddAxes(3)
  ),
  series: [
    line(names[0], lcValue, 0, 0, 0),
    line(names[1], lcPiotroski, 1, 0, 0),
    line(names[2], lcGreenblatt, 2, 0, 0),
    line('Large cap universe', lcUniverse, 3, 0, 0),
    line('T-Bills', tBills, 4, 0, 0),
    line(names[0], ddLcValue, 0, 2, 4),
    line(names[1], ddLcPiotroski, 1, 2, 4),
    line(names[2], ddLcGreenblatt, 2, 2, 4),
    line(names[0], scValue, 0, 4, 6),
    line(names[1], scPiotroski, 1, 4, 6),
    line(names[2], scGreenblatt, 2, 4, 6),
    line('Small cap universe', scUniverse, 3, 4, 6),
    line('T-Bills', tBills, 4, 4, 6),
    line(names[0], ddScValue, 0, 6, 10),
    line(names[1], ddScPiotroski, 1, 6, 10),
    line(names[2], ddScGreenblatt, 2, 6, 10)
  ]
};

var chart = echarts.init(document.getElementById('chart'), null, { renderer: 'canvas' });
chart.setOption(option);
</script>
</body>
</html>
